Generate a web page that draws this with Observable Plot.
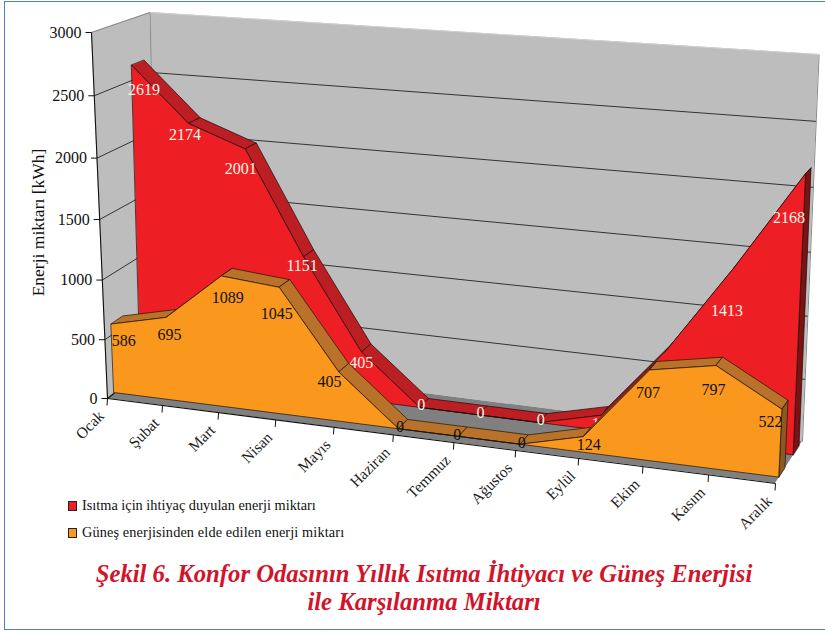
<!DOCTYPE html>
<html lang="tr"><head><meta charset="utf-8">
<script src="https://cdn.jsdelivr.net/npm/d3@7"></script>
<script src="https://cdn.jsdelivr.net/npm/@observablehq/plot@0.6"></script>
<style>
html,body{margin:0;background:#fff}
#page{position:relative;width:825px;height:633px;overflow:hidden;font-family:"Liberation Serif",serif}
#frame{position:absolute;left:4px;top:1px;width:830px;height:629px;border:1.5px solid #4f81bd;box-sizing:border-box}
#chart{position:absolute;left:0;top:0}
.lg{position:absolute;left:68px;font-size:14.3px;color:#111;white-space:nowrap;line-height:16px}
.lg i{display:inline-block;width:7px;height:8px;border:1px solid #222;margin-right:5px;vertical-align:-0.5px}
#cap{position:absolute;left:0;top:560px;width:848px;text-align:center;color:#d2142a;font:italic bold 24.7px/28px "Liberation Serif",serif}
</style></head><body>
<div id="page"><div id="frame"></div><div id="chart"></div>
<div class="lg" style="top:497px"><i style="background:#ee1f24"></i>Isıtma için ihtiyaç duyulan enerji miktarı</div>
<div class="lg" style="top:524px;letter-spacing:.12px"><i style="background:#f9981c"></i>Güneş enerjisinden elde edilen enerji miktarı</div>
<div id="cap">Şekil 6. Konfor Odasının Yıllık Isıtma İhtiyacı ve Güneş Enerjisi<br>ile Karşılanma Miktarı</div>
</div>
<script>
const months=["Ocak","Şubat","Mart","Nisan","Mayıs","Haziran","Temmuz","Ağustos","Eylül","Ekim","Kasım","Aralık"];
const heating=[2619,2174,2001,1151,405,0,0,0,124,707,1413,2168];
const solar=[586,695,1089,1045,405,0,0,0,124,707,797,522];
const valueTicks=[0,500,1000,1500,2000,2500,3000];
const vMax=3000, H=548;

// Layout: where the labels sit relative to their points
const heatingNudge=[[12,24],[-4,11],[-5,19],[-2,8],[-1,10],[1,-3],[1,-3],[1,-3],[2,8],[0,24],[-8,43],[-17,44]];
const solarNudge=[[12,16],[3,17],[6,21],[-3,26],[-10,9],[1,-2],[-2,-2],[1,-2],[5,8],[-2,22],[-3,24],[-12,12]];

// Box corners on the page: f=front, b=back, l/r, 0=floor, 1=top
const box={fl0:[107,398],fr0:[775,483],bl0:[157,359],br0:[802,441],fl1:[91,32],fr1:[794,75],bl1:[149.5,12],br1:[818.6,54]};
const warp=(t,k)=>t/(1+k*(1-t));
const mix=(a,b,t)=>[a[0]+(b[0]-a[0])*t,a[1]+(b[1]-a[1])*t];
function P(u,v,d){
  const tu=warp(u/11,.114), tv=warp(v/vMax,.045);
  const f0=mix(box.fl0,box.fr0,tu),b0=mix(box.bl0,box.br0,tu),f1=mix(box.fl1,box.fr1,tu),b1=mix(box.bl1,box.br1,tu);
  return mix(mix(f0,b0,d),mix(f1,b1,d),tv);
}
const uAll=months.map((_,i)=>i);

function series(vals,d0,d1,top,front,side,line){
  const tops=[];
  for(let i=0;i<11;i++){
    [i,i+1].forEach(u=>{const a=P(u,vals[u],d0),b=P(u,vals[u],d1);tops.push({z:i,x1:a[0],y1:a[1],x2:b[0],y2:b[1]});});
  }
  const sideRows=[0,vals[11]].map(v=>{const a=P(11,v,d0),b=P(11,v,d1);return{x1:a[0],y1:a[1],x2:b[0],y2:b[1]};});
  const frontRows=uAll.map(u=>{const a=P(u,vals[u],d0),b=P(u,0,d0);return{x1:a[0],y1:a[1],x2:b[0],y2:b[1]};});
  const opt=(fill)=>({x1:"x1",y1:"y1",x2:"x2",y2:"y2",fill,stroke:line,strokeWidth:.7});
  return [
    Plot.area(tops,{...opt(top),z:"z"}),
    Plot.area(sideRows,opt(side)),
    Plot.area(frontRows,opt(front))
  ];
}
const labelRows=(vals,nudge,d)=>uAll.map(u=>{const p=P(u,vals[u],d);return{t:String(vals[u]),x:p[0]+nudge[u][0],y:p[1]+nudge[u][1]};});
const edge=(a,b)=>({x1:a[0],y1:a[1],x2:b[0],y2:b[1]});
const labelFont={fontFamily:"Liberation Serif",fontSize:16};

const backWall=[0,vMax].map(v=>edge(P(0,v,1),P(11,v,1)));
const sideWall=[0,vMax].map(v=>edge(P(0,v,0),P(0,v,1)));
const floor=[0,1].map(d=>edge(P(0,0,d),P(11,0,d)));
const gridBack=valueTicks.slice(1,-1).map(v=>edge(P(0,v,1),P(11,v,1)));
const gridSide=valueTicks.slice(1,-1).map(v=>edge(P(0,v,0),P(0,v,1)));
const valueTickRows=valueTicks.map(v=>{const p=P(0,v,0);return{x1:p[0]-6,y1:p[1],x2:p[0],y2:p[1],t:String(v),lx:p[0]-10,ly:p[1]};});
const monthTickRows=uAll.map(u=>{const p=P(u,0,0);return{x1:p[0],y1:p[1],x2:p[0]-.5,y2:p[1]+7,t:months[u],lx:p[0]-6,ly:p[1]+15};});
const areaOpt={x1:"x1",y1:"y1",x2:"x2",y2:"y2"};
const linkOpt={x1:"x1",y1:"y1",x2:"x2",y2:"y2"};

const chart=Plot.plot({
  width:825,height:H,margin:0,style:{background:"transparent",overflow:"visible"},
  x:{domain:[0,825],range:[0,825],axis:null},
  y:{domain:[0,H],range:[0,H],axis:null},
  marks:[
    Plot.area(backWall,{...areaOpt,fill:"#bdbdbd"}),
    Plot.area(sideWall,{...areaOpt,fill:"#bdbdbd"}),
    Plot.link([edge(P(0,0,1),P(0,vMax,1)),edge(P(11,0,1),P(11,vMax,1)),edge(P(0,vMax,0),P(0,vMax,1))],{...linkOpt,stroke:"#8a8a8a",strokeWidth:1}),
    Plot.link([edge(P(0,vMax,1),P(11,vMax,1))],{...linkOpt,stroke:"#cfcfcf",strokeWidth:1}),
    Plot.area(floor,{...areaOpt,fill:"#808080"}),
    Plot.link(gridBack,{...linkOpt,stroke:"#333",strokeWidth:1}),
    Plot.link(gridSide,{...linkOpt,stroke:"#333",strokeWidth:1}),
    ...series(heating,.67,.89,"#bb1e23","#ee1f24","#7b1315","#1c0a0a"),
    Plot.text(labelRows(heating,heatingNudge,.67),{x:"x",y:"y",text:"t",fill:"#fff3e6",...labelFont}),
    ...series(solar,.14,.37,"#b9722a","#f9981c","#8a5a22","#1c1206"),
    Plot.text(labelRows(solar,solarNudge,.14),{x:"x",y:"y",text:"t",fill:"#111",...labelFont}),
    Plot.link([edge(P(0,0,0),P(0,vMax,0)),edge(P(0,0,0),P(11,0,0)),edge(P(0,0,0),P(0,0,.14))],{...linkOpt,stroke:"#111",strokeWidth:1.1}),
    Plot.link(valueTickRows,{...linkOpt,stroke:"#111",strokeWidth:1}),
    Plot.link(monthTickRows,{...linkOpt,stroke:"#111",strokeWidth:1}),
    Plot.text(valueTickRows,{x:"lx",y:"ly",text:"t",textAnchor:"end",fill:"#111",fontFamily:"Liberation Serif",fontSize:16}),
    Plot.text(monthTickRows,{x:"lx",y:"ly",text:"t",textAnchor:"end",rotate:-45,fill:"#222",fontFamily:"Liberation Serif",fontSize:15.5,letterSpacing:"0.8px"}),
    Plot.text(["Enerji miktarı [kWh]"],{x:()=>38,y:()=>222,text:d=>d,rotate:-90,fill:"#111",fontFamily:"Liberation Serif",fontSize:17.5})
  ]
});
document.getElementById("chart").append(chart);
</script></body></html>
